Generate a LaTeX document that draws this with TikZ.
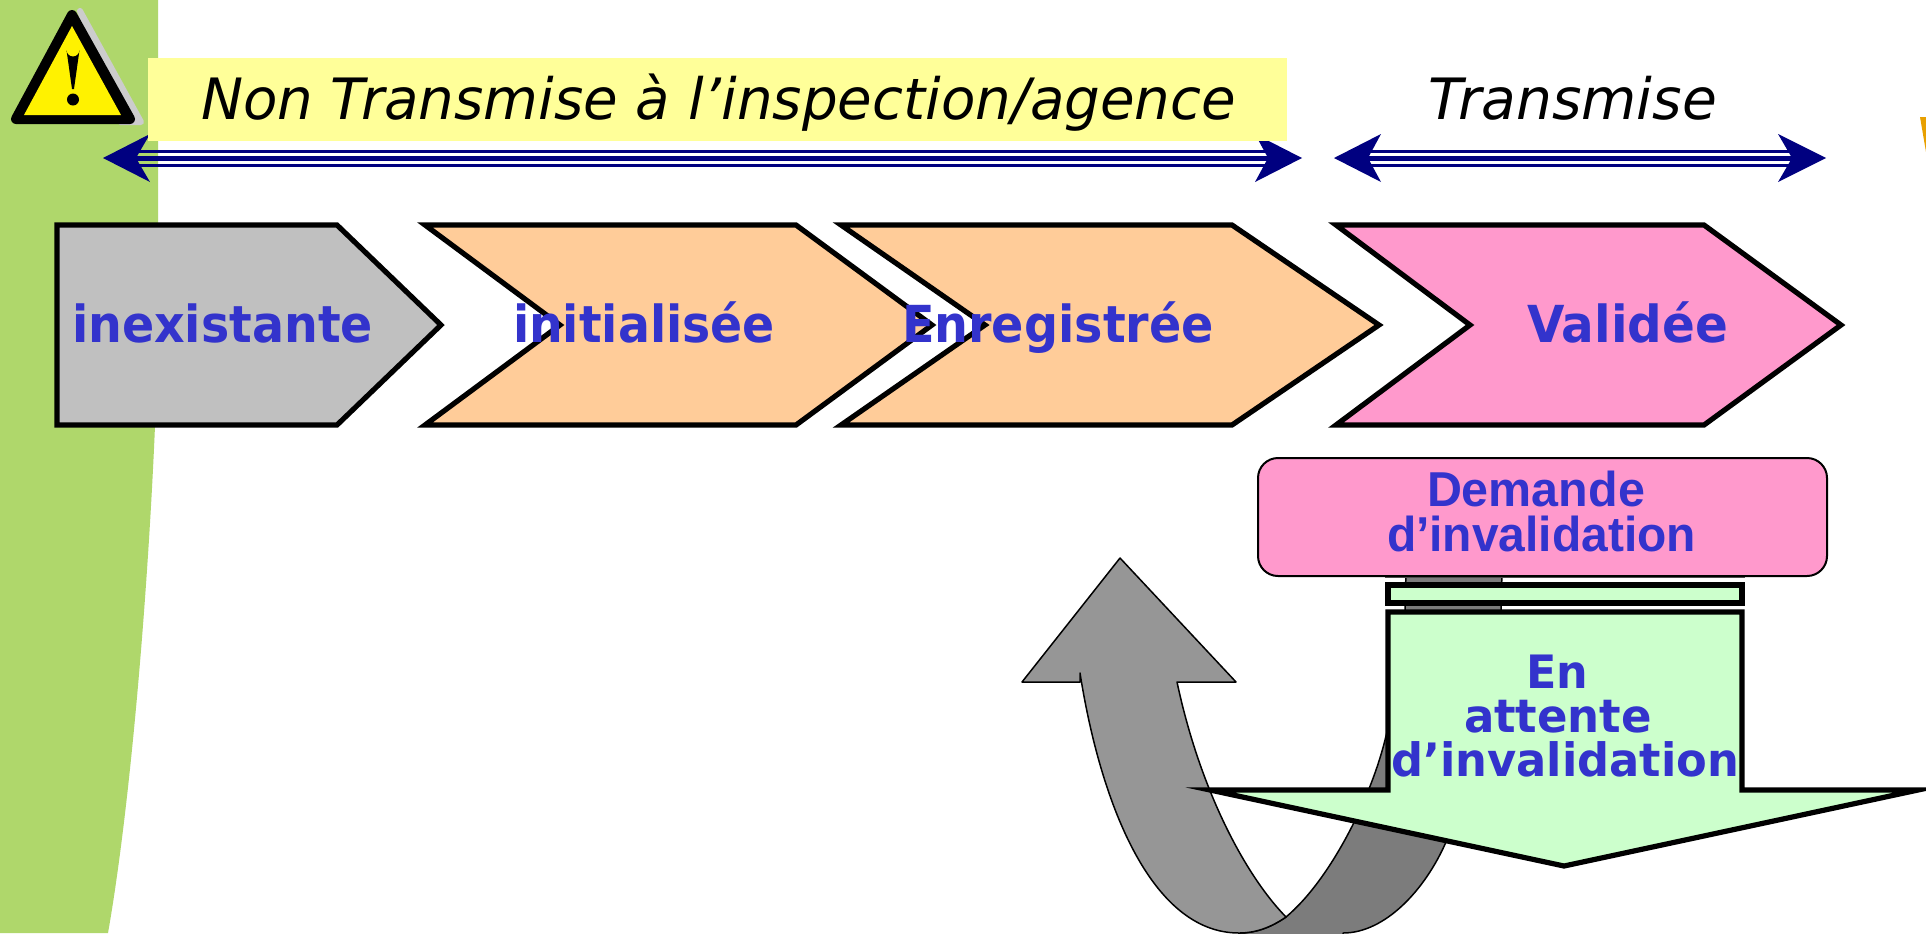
\documentclass[tikz,border=0pt]{standalone}
\usepackage{graphicx}
\usepackage{fontspec}
\setmainfont{DejaVu Sans}
\newfontfamily\arialfont{Liberation Sans}
\newlength{\pxu}\setlength{\pxu}{0.5pt}
\newcommand{\fw}[2]{\resizebox{#1\pxu}{\height}{#2}}
\definecolor{bandgreen}{HTML}{AFD76B}
\definecolor{paleyellow}{HTML}{FFFF99}
\definecolor{navyarrow}{HTML}{000080}
\definecolor{peach}{HTML}{FFCC99}
\definecolor{rosefill}{HTML}{FF99CC}
\definecolor{palegreen}{HTML}{CCFFCC}
\definecolor{labelblue}{HTML}{3333CC}
\definecolor{shadowgrey}{HTML}{CCCCCC}
\definecolor{silverfill}{HTML}{C0C0C0}
\definecolor{lightarrow}{HTML}{969696}
\definecolor{darkarrow}{HTML}{7C7C7C}
\definecolor{orangebit}{HTML}{E8A000}
\tikzset{
  chev/.style={draw=black,line width=2.6pt,miter limit=20,line join=miter},
  lab/.style={anchor=base west,inner sep=0pt,outer sep=0pt,text=labelblue,font=\fontsize{25.5}{30}\selectfont\bfseries},
  lab2/.style={anchor=base west,inner sep=0pt,outer sep=0pt,text=labelblue,font=\fontsize{23}{26}\selectfont\bfseries},
  lab3/.style={anchor=base west,inner sep=0pt,outer sep=0pt,text=labelblue,font=\fontsize{24.5}{28}\arialfont\bfseries},
  ital/.style={anchor=base west,inner sep=0pt,outer sep=0pt,text=black,font=\fontsize{28.5}{34}\selectfont\itshape},
  curveedge/.style={draw=black,line width=0.75pt,line join=round}
}
\begin{document}
\begin{tikzpicture}[x=0.5pt,y=-0.5pt]
\path[use as bounding box] (0,0) rectangle (1926,933);
\clip (0,0) rectangle (1926,933);
\fill[white] (0,0) rectangle (1926,933);
% green band
\fill[bandgreen] (0,0) -- (158,0) -- (158,330) .. controls (155,500) and (135,780) .. (108,933) -- (0,933) -- cycle;
% warning sign
\draw[shadowgrey,fill=shadowgrey,line width=3pt,line join=round] (80,11) -- (141,122) -- (120,122) -- cycle;
\draw[black,fill=black,line width=5pt,line join=round] (72,15) -- (130,119) -- (16,119) -- cycle;
\fill[yellow] (72,26) -- (121,115) -- (24,115) -- cycle;
\fill[black] (66.5,50) arc[start angle=180,end angle=0,radius=6.5] -- (74,89) -- (72,89) -- cycle;
\fill[black] (73,99.5) circle[radius=6];
% orange fragment
\fill[orangebit] (1920,117) -- (1926,117) -- (1926,152) -- cycle;
% double-headed arrows
\foreach \a/\b/\c/\d/\e/\f in {103/150/136/1268/1255/1302,1334/1381/1368/1792/1778/1826}{
  \fill[navyarrow] (\c-2,150) rectangle (\d+2,153);
  \fill[navyarrow] (\c-2,155.5) rectangle (\d+2,161);
  \fill[navyarrow] (\c-2,164) rectangle (\d+2,167);
  \fill[navyarrow] (\a,158) -- (\b,134) -- (\c,158) -- (\b,182) -- cycle;
  \fill[navyarrow] (\f,158) -- (\e,134) -- (\d,158) -- (\e,182) -- cycle;
}
% yellow banner
\fill[paleyellow] (148,58) rectangle (1287,141);
\node[ital] (nontrans) at (201,119) {\fw{1035}{Non Transmise à l’inspection/agence}};
\node[ital] (trans) at (1428,119) {\fw{289}{Transmise}};
% chevrons
\draw[chev,fill=silverfill] (57,225) -- (337,225) -- (441,325) -- (337,425) -- (57,425) -- cycle;
\draw[chev,fill=peach] (425,225) -- (796,225) -- (932,325) -- (796,425) -- (425,425) -- (560,325) -- cycle;
\draw[chev,fill=peach] (841,225) -- (1232,225) -- (1379,325) -- (1232,425) -- (841,425) -- (985,325) -- cycle;
\draw[chev,fill=rosefill] (1336,225) -- (1704,225) -- (1841,325) -- (1704,425) -- (1336,425) -- (1470,325) -- cycle;
\node[lab] (inex) at (72,342) {\fw{301}{inexistante}};
\node[lab] (init) at (513,342) {\fw{262}{initialisée}};
\node[lab] (enreg) at (902,342) {\fw{312}{Enregistrée}};
\node[lab] (valid) at (1527,342) {\fw{201}{Validée}};
% U-turn arrow, back part
\draw[curveedge,fill=darkarrow] (1406,570) -- (1405,612)
  .. controls (1403,650) and (1395,700) .. (1385,740)
  .. controls (1370,800) and (1330,880) .. (1286,917)
  .. controls (1270,928) and (1255,933) .. (1239,933)
  -- (1239,940) -- (1343,940) -- (1343,933)
  .. controls (1385,933) and (1425,890) .. (1446,842)
  .. controls (1475,780) and (1495,680) .. (1501,612)
  -- (1502,570) -- cycle;
% U-turn arrow, front part
\draw[curveedge,fill=lightarrow] (1120,558) -- (1236,682) -- (1177,682)
  .. controls (1200,790) and (1245,875) .. (1286,917)
  .. controls (1270,928) and (1255,933) .. (1239,933)
  .. controls (1150,933) and (1100,800) .. (1080,673)
  -- (1080,682) -- (1022,682) -- cycle;
% request box
\draw[draw=black,line width=1pt,fill=rosefill,rounded corners=10pt] (1258,458) rectangle (1827,576);
\node[lab3] (dem) at (1427,506) {\fw{218}{Demande}};
\node[lab3] (dinv) at (1387,551) {\fw{309}{d’invalidation}};
% pending block
\draw[black!70,line width=0.5pt] (1385,577.5) -- (1745,577.5);
\draw[chev,fill=palegreen] (1388,585) rectangle (1742,603);
\draw[chev,fill=palegreen] (1388,612) -- (1742,612) -- (1742,790) -- (1918,790) -- (1564,866) -- (1210,790) -- (1388,790) -- cycle;
\node[lab2] (en) at (1526,688) {\fw{62}{En}};
\node[lab2] (att) at (1464,732) {\fw{188}{attente}};
\node[lab2] (inv) at (1391,776) {\fw{348}{d’invalidation}};
\end{tikzpicture}
\end{document}
